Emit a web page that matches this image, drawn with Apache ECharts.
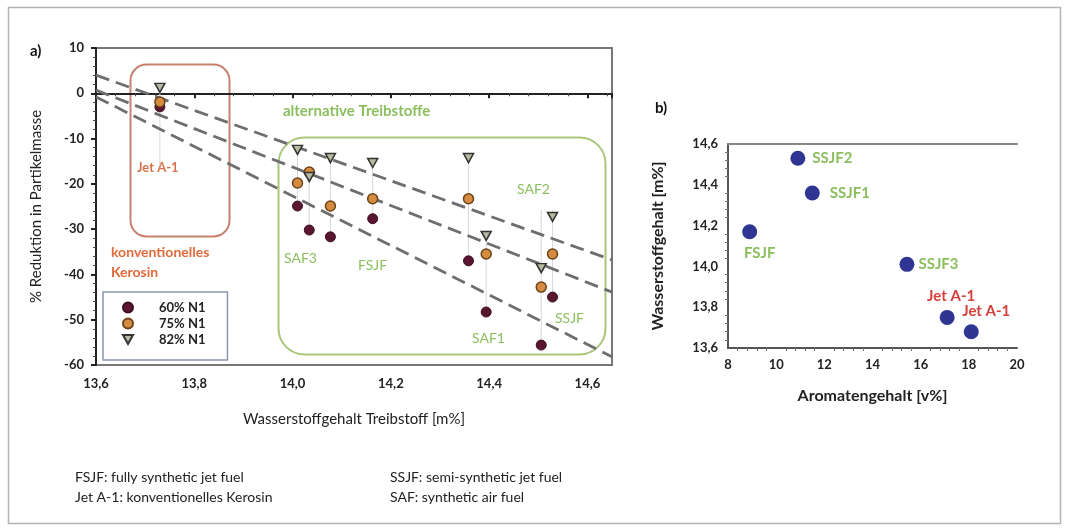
<!DOCTYPE html>
<html>
<head>
<meta charset="utf-8">
<script src="https://cdn.jsdelivr.net/npm/echarts@6/dist/echarts.min.js"></script>
<style>
  html, body { margin: 0; padding: 0; background: #fff; }
  #main { width: 1065px; height: 528px; }
</style>
</head>
<body>
<div id="main"></div>
<script>
// a) hydrogen content vs. particle mass reduction
var hydrogen = [13.73, 14.01, 14.034, 14.077, 14.163, 14.358, 14.394, 14.506, 14.529];
var n1_60 = [-3.0, -24.9, -30.2, -31.7, -27.7, -37.0, -48.3, -55.6, -45.0];
var n1_75 = [-1.9, -19.8, -17.4, -24.9, -23.3, -23.3, -35.5, -42.8, -35.5];
var n1_82 = [1.2, -12.5, -18.5, -14.3, -15.4, -14.3, -31.5, -38.6, -27.3];
// faint vertical bars behind each column
var barTop = [1.2, -12.5, -17.0, -14.3, -15.4, -14.3, -31.5, -25.8, -25.8];
var barBottom = [-16.0, -26.0, -31.0, -32.0, -28.0, -37.0, -48.3, -55.6, -45.0];
// dashed trend lines (start / end)
var trendX = [13.6, 14.65];
var trend82 = [4.0, -36.8];
var trend75 = [0.7, -43.9];
var trend60 = [-0.8, -58.2];

// b) aromatics vs. hydrogen content
var fuelNames = ['SSJF2', 'SSJF1', 'FSJF', 'SSJF3', 'Jet A-1', 'Jet A-1'];
var aromatics = [10.9, 11.5, 8.9, 15.43, 17.1, 18.1];
var hydrogenB = [14.53, 14.36, 14.17, 14.01, 13.75, 13.68];

var FONT = 'Lato';
var GREEN = '#8bbf5e';
var DOWN_TRIANGLE = 'path://M0,0 L10,0 L5,9 Z';

function comma(v) { return v.toFixed(1).replace('.', ','); }

var dom = document.getElementById('main');
var myChart = echarts.init(dom);

var labelPos = {
  'SSJF2': { position: 'right', distance: 7, color: GREEN },
  'SSJF1': { position: 'right', distance: 10, color: GREEN },
  'FSJF': { position: 'bottom', distance: 6, offset: [10, 0], color: GREEN },
  'SSJF3': { position: 'right', distance: 4, color: GREEN }
};
var bData = fuelNames.map(function (n, i) {
  var lp = labelPos[n] || (i === 4
    ? { position: 'top', distance: 6, offset: [4, 0], color: '#d6403a' }
    : { position: 'top', distance: 6, offset: [15, 0], color: '#d6403a' });
  return {
    name: n,
    value: [aromatics[i], hydrogenB[i]],
    label: Object.assign({ show: true, formatter: n, fontFamily: FONT, fontSize: 15, fontWeight: 'bold' }, lp)
  };
});

var tickLabel = { color: '#222', fontFamily: FONT, fontWeight: 'bold', fontSize: 13 };

var option = {
  animation: false,
  textStyle: { fontFamily: FONT },
  grid: [
    { left: 96, right: 453, top: 48, bottom: 163, show: true, borderColor: '#777', borderWidth: 2 },
    { left: 728, right: 48, top: 144, bottom: 180 }
  ],
  legend: {
    orient: 'vertical',
    left: 103,
    top: 292,
    data: [
      { name: '60% N1' },
      { name: '75% N1' },
      { name: '82% N1', icon: DOWN_TRIANGLE }
    ],
    backgroundColor: '#fff',
    borderColor: '#8a96ad',
    borderWidth: 1.5,
    padding: [9, 22, 14, 19],
    itemWidth: 10,
    itemHeight: 10,
    itemGap: 3,
    textStyle: { fontFamily: FONT, fontWeight: 'bold', fontSize: 13, color: '#222', lineHeight: 12, padding: [0, 0, 0, 21] }
  },
  xAxis: [
    {
      gridIndex: 0, type: 'value', min: 13.6, max: 14.65, interval: 0.2,
      name: 'Wasserstoffgehalt Treibstoff [m%]', nameLocation: 'middle', nameGap: 47,
      nameTextStyle: { fontFamily: FONT, fontSize: 15, color: '#222' },
      axisLine: { lineStyle: { color: '#222', width: 2 } },
      axisTick: { lineStyle: { color: '#222', width: 2 }, length: 5 },
      minorTick: { show: true, splitNumber: 5, length: 3, lineStyle: { color: '#444' } },
      splitLine: { show: false },
      axisLabel: Object.assign({ margin: 12, formatter: function (v) {
        return Math.abs(v * 5 - Math.round(v * 5)) < 1e-6 ? comma(v) : '';
      } }, tickLabel)
    },
    {
      gridIndex: 1, type: 'value', min: 8, max: 20, interval: 2,
      name: 'Aromatengehalt [v%]', nameLocation: 'middle', nameGap: 40,
      nameTextStyle: { fontFamily: FONT, fontSize: 16, fontWeight: 'bold', color: '#222' },
      axisLine: { onZero: false, lineStyle: { color: '#555', width: 2 } },
      axisTick: { show: false },
      minorTick: { show: true, splitNumber: 5, length: 3, lineStyle: { color: '#777' } },
      splitLine: { show: false },
      axisLabel: Object.assign({ margin: 10 }, tickLabel)
    },
    {
      gridIndex: 1, type: 'value', min: 8, max: 20, position: 'top',
      axisLine: { onZero: false, lineStyle: { color: '#888', width: 2 } },
      axisTick: { show: false }, axisLabel: { show: false }, splitLine: { show: false }
    }
  ],
  yAxis: [
    {
      gridIndex: 0, type: 'value', min: -60, max: 10, interval: 10,
      name: '% Reduktion in Partikelmasse', nameLocation: 'middle', nameGap: 52,
      nameTextStyle: { fontFamily: FONT, fontSize: 15, color: '#222' },
      axisLine: { lineStyle: { color: '#222', width: 2 } },
      axisTick: { lineStyle: { color: '#222', width: 2 }, length: 5 },
      minorTick: { show: true, splitNumber: 5, length: 3, lineStyle: { color: '#444' } },
      splitLine: { show: false },
      axisLabel: Object.assign({ margin: 12 }, tickLabel)
    },
    {
      gridIndex: 1, type: 'value', min: 13.6, max: 14.6, interval: 0.2,
      name: 'Wasserstoffgehalt [m%]', nameLocation: 'middle', nameGap: 62,
      nameTextStyle: { fontFamily: FONT, fontSize: 16, fontWeight: 'bold', color: '#222' },
      axisLine: { onZero: false, lineStyle: { color: '#555', width: 2 } },
      axisTick: { show: false },
      minorTick: { show: true, splitNumber: 5, length: 3, lineStyle: { color: '#777' } },
      splitLine: { show: false },
      axisLabel: Object.assign({ margin: 10, formatter: function (v) { return comma(v); } }, tickLabel)
    }
  ],
  series: [
    {
      type: 'custom', xAxisIndex: 0, yAxisIndex: 0, silent: true, z: 1,
      data: hydrogen.map(function (h, i) { return [h, barTop[i], barBottom[i]]; }),
      renderItem: function (params, api) {
        var p1 = api.coord([api.value(0), api.value(1)]);
        var p2 = api.coord([api.value(0), api.value(2)]);
        return { type: 'line', shape: { x1: p1[0], y1: p1[1], x2: p2[0], y2: p2[1] },
                 style: { stroke: '#d8d8d8', lineWidth: 1 } };
      }
    },
    { type: 'line', xAxisIndex: 0, yAxisIndex: 0, symbol: 'none', z: 2,
      data: trendX.map(function (x, i) { return [x, trend82[i]]; }),
      lineStyle: { color: '#6e6e6e', width: 2.8, type: [14, 7] } },
    { type: 'line', xAxisIndex: 0, yAxisIndex: 0, symbol: 'none', z: 2,
      data: trendX.map(function (x, i) { return [x, trend75[i]]; }),
      lineStyle: { color: '#6e6e6e', width: 2.8, type: [14, 7] } },
    { type: 'line', xAxisIndex: 0, yAxisIndex: 0, symbol: 'none', z: 2,
      data: trendX.map(function (x, i) { return [x, trend60[i]]; }),
      lineStyle: { color: '#6e6e6e', width: 2.8, type: [14, 7] } },
    { name: '60% N1', type: 'scatter', xAxisIndex: 0, yAxisIndex: 0, z: 5,
      symbol: 'circle', symbolSize: 10,
      itemStyle: { color: '#5a1630', borderColor: '#3a0e1e', borderWidth: 1, opacity: 1 },
      data: hydrogen.map(function (h, i) { return [h, n1_60[i]]; }) },
    { name: '75% N1', type: 'scatter', xAxisIndex: 0, yAxisIndex: 0, z: 6,
      symbol: 'circle', symbolSize: 10,
      itemStyle: { color: '#d58c40', borderColor: '#6d4218', borderWidth: 1.5, opacity: 1 },
      data: hydrogen.map(function (h, i) { return [h, n1_75[i]]; }) },
    { name: '82% N1', type: 'scatter', xAxisIndex: 0, yAxisIndex: 0, z: 7,
      symbol: DOWN_TRIANGLE, symbolSize: [10, 9],
      itemStyle: { color: '#b9b9a0', borderColor: '#333', borderWidth: 1.5, opacity: 1 },
      data: hydrogen.map(function (h, i) { return [h, n1_82[i]]; }) },
    { type: 'scatter', xAxisIndex: 1, yAxisIndex: 1, symbolSize: 15, z: 5,
      itemStyle: { color: '#2f3592', opacity: 1 },
      data: bData }
  ],
  graphic: [
    { type: 'rect', left: 6, top: 5, z: -10, silent: true,
      shape: { width: 1052, height: 516 }, style: { fill: 'none', stroke: '#b4b4b4', lineWidth: 1.5 } },
    { type: 'rect', left: 128, top: 62, z: 0, silent: true,
      shape: { width: 99, height: 172, r: 16 }, style: { fill: 'none', stroke: '#c9806e', lineWidth: 2 } },
    { type: 'rect', left: 276, top: 135, z: 0, silent: true,
      shape: { width: 327, height: 217, r: 26 }, style: { fill: 'none', stroke: '#a8c77a', lineWidth: 2 } },
    { type: 'text', left: 30, top: 44, style: { text: 'a)', font: 'bold 15px Lato', fill: '#111' } },
    { type: 'text', left: 655, top: 101, style: { text: 'b)', font: 'bold 15px Lato', fill: '#111' } },
    { type: 'text', left: 137, top: 161, style: { text: 'Jet A-1', font: 'bold 13px Lato', fill: '#d8704a' } },
    { type: 'text', left: 111, top: 242, style: { text: 'konventionelles\nKerosin', font: 'bold 14px Lato', lineHeight: 20, fill: '#e06a3c' } },
    { type: 'text', left: 283, top: 104, style: { text: 'alternative Treibstoffe', font: 'bold 15px Lato', fill: GREEN } },
    { type: 'text', left: 284, top: 251, style: { text: 'SAF3', font: '14px Lato', fill: GREEN } },
    { type: 'text', left: 358, top: 258, style: { text: 'FSJF', font: '14px Lato', fill: GREEN } },
    { type: 'text', left: 472, top: 331, style: { text: 'SAF1', font: '14px Lato', fill: GREEN } },
    { type: 'text', left: 555, top: 311, style: { text: 'SSJF', font: '14px Lato', fill: GREEN } },
    { type: 'text', left: 517, top: 182, style: { text: 'SAF2', font: '14px Lato', fill: GREEN } },
    { type: 'text', left: 75, top: 467, style: { text: 'FSJF: fully synthetic jet fuel\nJet A-1: konventionelles Kerosin', font: '14px Lato', lineHeight: 20, fill: '#222' } },
    { type: 'text', left: 390, top: 467, style: { text: 'SSJF: semi-synthetic jet fuel\nSAF: synthetic air fuel', font: '14px Lato', lineHeight: 20, fill: '#222' } }
  ]
};

if (option && typeof option === 'object') {
  myChart.setOption(option);
}

window.addEventListener('resize', myChart.resize);
</script>
</body>
</html>
